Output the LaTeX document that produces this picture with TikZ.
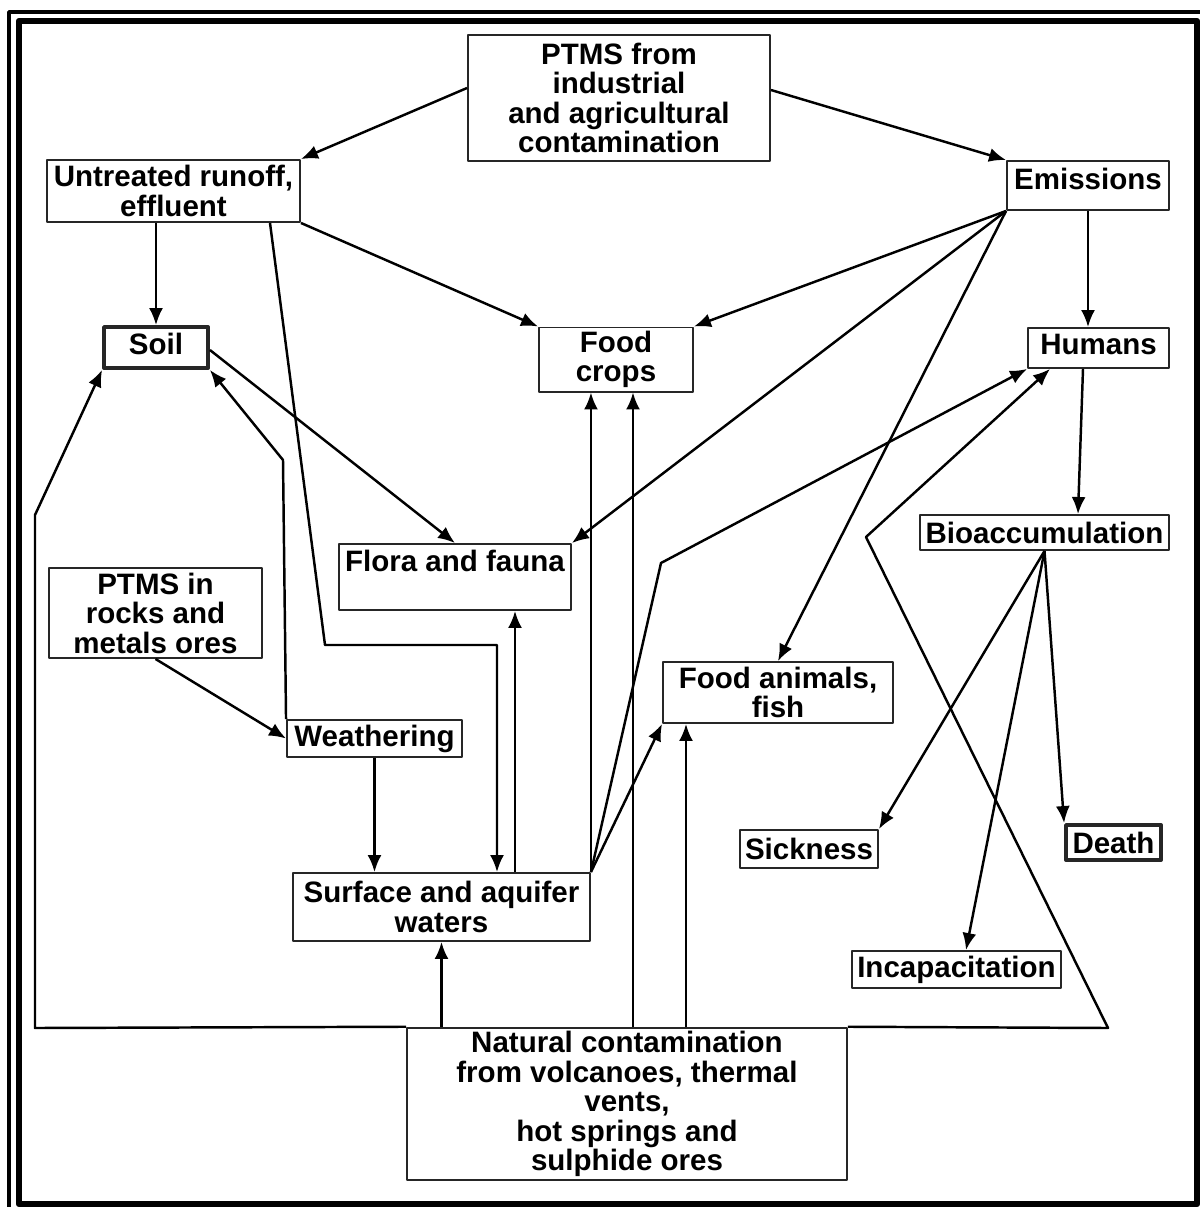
\documentclass[tikz,border=0pt]{standalone}
\usepackage{fontspec}
\setmainfont{Liberation Sans}
\usetikzlibrary{
    arrows.meta     % filled arrow tips
}
\newcommand{\pix}{0.02cm}
\tikzset{
    box/.style={draw=black!85, line width=1.1pt, inner sep=2pt, align=center,
        font=\fontsize{16.8}{16.8}\selectfont\bfseries},
    heavy box/.style={box, line width=2.2pt},
    flow/.style={-{Latex[length=3.4mm,width=2.8mm]}, line width=1.4pt},
    frame/.style={line width=3.6pt}
}

\begin{document}
\begin{tikzpicture}[x=\pix, y=-\pix, line join=round]
        \useasboundingbox (0,0) rectangle (1200,1207);
        % outer frame
        \draw[frame] (19,21) rectangle (1197,1204);
        \draw[line width=2.2pt] (9,1207) -- (9,12) -- (1200,12);

        % sources
        \node[box, minimum width=302*\pix, minimum height=126*\pix] (ind) at (619,98)
            {PTMS from\\industrial\\and agricultural\\contamination};
        \node[box, minimum width=253*\pix, minimum height=62*\pix] (run) at (173.5,191)
            {Untreated runoff,\\effluent};
        \node[box, minimum width=162*\pix, minimum height=49*\pix, text depth=8pt] (emi) at (1088,185.5)
            {Emissions};
        \node[box, minimum width=213*\pix, minimum height=90*\pix] (rock) at (155.5,613)
            {PTMS in\\rocks and\\metals ores};
        \node[box, minimum width=440*\pix, minimum height=152*\pix] (nat) at (627,1104)
            {Natural contamination\\from volcanoes, thermal\\vents,\\hot springs and\\sulphide ores};

        % receivers
        \node[heavy box, minimum width=104*\pix, minimum height=41*\pix, text depth=4pt] (soil) at (156,347.5) {Soil};
        \node[box, minimum width=154*\pix, minimum height=63*\pix] (crop) at (616,359.5) {Food\\crops};
        \node[box, minimum width=141*\pix, minimum height=40*\pix, text depth=4pt] (hum) at (1098.5,348) {Humans};
        \node[box, minimum width=232*\pix, minimum height=66*\pix, text depth=19pt] (flora) at (455,577) {Flora and fauna};
        \node[box, minimum width=175*\pix, minimum height=37*\pix] (weath) at (374.5,738.5) {Weathering};
        \node[box, minimum width=230*\pix, minimum height=61*\pix] (anim) at (778,692.5) {Food animals,\\fish};
        \node[box, minimum width=297*\pix, minimum height=68*\pix] (water) at (441.5,907) {Surface and aquifer\\waters};

        % effects
        \node[box, minimum width=249*\pix, minimum height=35*\pix] (bio) at (1044.5,532.5) {Bioaccumulation};
        \node[box, minimum width=138*\pix, minimum height=38*\pix] (sick) at (809,849) {Sickness};
        \node[heavy box, minimum width=95*\pix, minimum height=35*\pix] (death) at (1113.5,842.5) {Death};
        \node[box, minimum width=209*\pix, minimum height=37*\pix] (incap) at (956.5,969.5) {Incapacitation};

        \draw[flow] (ind.west |- 0,88) -- (run.north east);
        \draw[flow] (ind.east |- 0,90) -- (emi.north west);
        \draw[flow] (run.south -| soil.north) -- (soil.north);
        \draw[flow] (run.south -| 270,0) -- (325,645) -- (497,645) -- (water.north -| 497,0);
        \draw[flow] (run.south east) -- (crop.north west);
        \draw[flow] (soil.east |- 0,350) -- (flora.north);
        \draw[flow] (weath.north west) -- (283,460) -- (soil.south east);
        \draw[flow] (rock.south) -- (weath.west);
        \draw[flow] (weath.south) -- (water.north -| weath.south);

        % natural sources
        \draw[flow] (nat.north west) -- (35,1028) -- (35,515) -- (soil.south west);
        \draw[flow] (nat.north east) -- (1108,1028) -- (866,537) -- (hum.south -| 1050,0);
        \draw[flow] (nat.north -| water.south) -- (water.south);
        \draw[flow] (nat.north -| 633,0) -- (crop.south -| 633,0);
        \draw[flow] (nat.north -| 686,0) -- (anim.south -| 686,0);

        % waters
        \draw[flow] (water.north -| 515,0) -- (flora.south -| 515,0);
        \draw[flow] (water.north east) -- (crop.south -| water.north east);
        \draw[flow] (water.north east) -- (anim.south west);
        \draw[flow] (water.north east) -- (661,563) -- (hum.south west);

        % emissions
        \draw[flow] (emi.south west) -- (crop.north east);
        \draw[flow] (emi.south west) -- (flora.north east);
        \draw[flow] (emi.south west) -- (anim.north);
        \draw[flow] (emi.south) -- (hum.north -| emi.south);

        % humans
        \draw[flow] (hum.south -| 1083,0) -- (bio.north -| 1078,0);
        \draw[flow] (bio.south) -- (sick.north east);
        \draw[flow] (bio.south) -- (incap.north -| 966,0);
        \draw[flow] (bio.south) -- (death.north west);
\end{tikzpicture}
\end{document}
